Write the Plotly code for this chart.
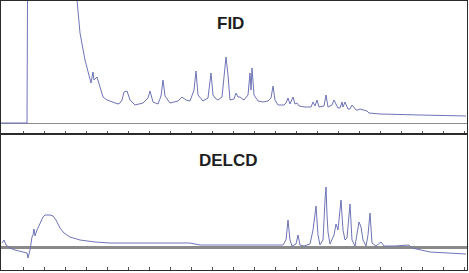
import plotly.graph_objects as go
from plotly.subplots import make_subplots

# FID chromatogram: retention time (min) and detector signal
fid_time = [0.0, 2.6, 2.7, 7.5, 7.6, 7.9, 8.4, 8.7, 9.0, 9.2, 9.3, 9.6, 9.9, 10.2, 10.6, 11.2,
            11.7, 11.9, 12.1, 12.3, 12.6, 12.9, 13.4, 14.2, 14.7, 14.9, 15.2, 15.7, 16.0, 16.2,
            16.4, 16.9, 17.7, 18.1, 18.5, 18.9, 19.3, 19.5, 19.7, 20.2, 20.7, 21.0, 21.2, 21.4,
            21.7, 22.1, 22.3, 22.5, 22.7, 22.9, 23.3, 23.5, 23.7, 23.9, 24.3, 24.7, 24.9, 25.0,
            25.1, 25.3, 25.7, 26.2, 26.7, 27.0, 27.2, 27.4, 27.7, 28.3, 28.5, 28.7, 28.9, 29.1,
            29.2, 29.4, 29.6, 29.8, 30.4, 31.0, 31.2, 31.4, 31.6, 31.8, 32.3, 32.5, 32.7, 33.1,
            33.3, 33.7, 33.9, 34.1, 34.2, 34.4, 34.7, 34.9, 35.1, 35.5, 35.7, 35.9, 36.4, 36.6,
            36.8, 37.9, 41.9, 46.5]
fid_signal = [0, 0, 250, 250, 123, 90, 63, 51, 40, 51, 43, 46, 35, 26, 23, 21,
              19, 20, 23, 31, 32, 23, 18, 20, 25, 32, 21, 19, 27, 43,
              27, 20, 22, 26, 23, 22, 33, 52, 28, 22, 25, 50, 28, 25,
              23, 26, 43, 66, 48, 23, 24, 30, 26, 26, 23, 28, 50, 33,
              55, 28, 22, 21, 22, 25, 37, 23, 18, 18, 20, 25, 19, 23,
              26, 19, 20, 17, 16, 16, 21, 17, 23, 16, 17, 28, 16, 18,
              23, 15, 15, 21, 16, 21, 14, 14, 18, 13, 13, 14, 12, 12,
              10, 9, 8, 7]

# DELCD chromatogram: retention time (min) and detector signal
delcd_time = [0.1, 0.3, 0.5, 0.9, 1.4, 1.9, 2.4, 2.6, 2.7, 2.9, 3.1, 3.2, 3.3, 3.4, 3.6, 3.9,
              4.2, 4.4, 4.9, 5.2, 5.5, 5.9, 6.3, 6.9, 7.9, 9.4, 10.9, 12.9, 15.9, 18.9, 19.9,
              23.9, 28.2, 28.5, 28.7, 28.9, 29.1, 29.5, 29.7, 29.9, 30.3, 30.9, 31.2, 31.5,
              31.7, 31.9, 32.2, 32.4, 32.5, 32.6, 32.7, 32.9, 33.3, 33.5, 33.7, 34.0, 34.2,
              34.4, 34.6, 34.9, 35.1, 35.4, 35.6, 35.8, 36.0, 36.2, 36.5, 36.7, 36.9, 37.1,
              37.5, 38.0, 38.3, 39.4, 40.8, 41.1, 42.9, 46.5]
delcd_signal = [4, 7, 2, -1, -3, -4, -5, -6, -11, -3, 10, 12, 18, 11, 17, 24,
                30, 32, 32, 31, 27, 19, 14, 10, 7, 5, 4, 4, 4, 4, 2,
                2, 2, 7, 27, 7, 1, 3, 12, 2, 1, 3, 17, 41,
                12, 2, 7, 47, 60, 32, 15, 3, 12, 23, 17, 47, 17,
                7, 9, 43, 7, 1, 12, 25, 20, 7, 1, 12, 34, 4,
                1, 5, 1, 1, 2, -1, -5, -7]

line_color = "#6e74b6"
frame_color = "#2b2b2b"

fig = make_subplots(rows=2, cols=1, shared_xaxes=True, vertical_spacing=0)

fig.add_trace(go.Scatter(x=fid_time, y=fid_signal, mode="lines",
                         line=dict(color=line_color, width=1), hoverinfo="skip"), row=1, col=1)
fig.add_trace(go.Scatter(x=delcd_time, y=delcd_signal, mode="lines",
                         line=dict(color=line_color, width=1), hoverinfo="skip"), row=2, col=1)

xcommon = dict(range=[0, 46.6], showgrid=False, zeroline=False, showline=True, mirror=True,
               linecolor=frame_color, linewidth=1, ticks="inside", ticklen=3, tickcolor="#555",
               tick0=2.2, dtick=2.1, showticklabels=False)
fig.update_xaxes(**xcommon)

top_split = 133 / 269
fig.update_yaxes(range=[-11, 122], domain=[1 - top_split, 1], row=1, col=1)
fig.update_yaxes(range=[-23, 113], domain=[0, 1 - top_split], row=2, col=1)
fig.update_yaxes(showgrid=False, showticklabels=False, ticks="", showline=True, mirror=True,
                 linecolor=frame_color, linewidth=1, zeroline=True)
fig.update_yaxes(zerolinecolor="#8c8c8c", zerolinewidth=1, row=1, col=1)
fig.update_yaxes(zerolinecolor="#8a8a8a", zerolinewidth=2.5, row=2, col=1)

title_font = dict(family="Liberation Sans, Arial, sans-serif", size=17, color="#1e1e1e")
fig.add_annotation(text="<b>FID</b>", x=(230.5 - 1) / 466, y=(270 - 23.5) / 269,
                   xref="paper", yref="paper", showarrow=False, font=title_font,
                   xanchor="center", yanchor="middle")
fig.add_annotation(text="<b>DELCD</b>", x=(228.5 - 1) / 466, y=(270 - 160) / 269,
                   xref="paper", yref="paper", showarrow=False, font=title_font,
                   xanchor="center", yanchor="middle")

fig.update_layout(width=469, height=273, margin=dict(l=1, r=2, t=1, b=3),
                  paper_bgcolor="white", plot_bgcolor="white", showlegend=False)

fig.write_html("out.html")
